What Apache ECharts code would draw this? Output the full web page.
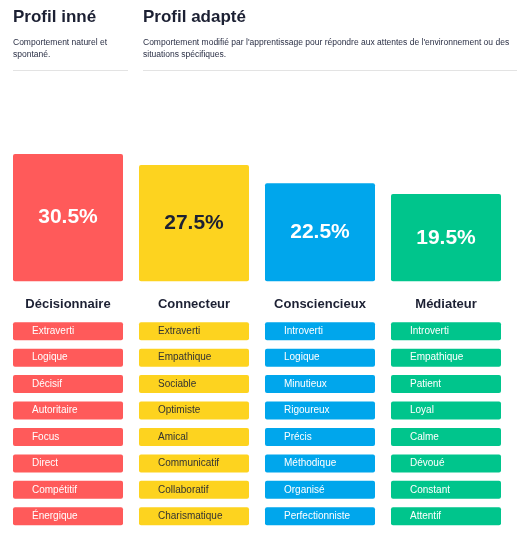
<!DOCTYPE html>
<html>
<head>
<meta charset="utf-8">
<script src="https://cdn.jsdelivr.net/npm/echarts@6/dist/echarts.min.js"></script>
<style>
html,body{margin:0;padding:0;background:#fff;}
#c{width:522px;height:542px;}
</style>
</head>
<body>
<div id="c"></div>
<script>
// ---- data ----
var categories = ['Décisionnaire', 'Connecteur', 'Consciencieux', 'Médiateur'];
var percentages = [30.5, 27.5, 22.5, 19.5];
var traitsDecisionnaire = ['Extraverti', 'Logique', 'Décisif', 'Autoritaire', 'Focus', 'Direct', 'Compétitif', 'Énergique'];
var traitsConnecteur = ['Extraverti', 'Empathique', 'Sociable', 'Optimiste', 'Amical', 'Communicatif', 'Collaboratif', 'Charismatique'];
var traitsConsciencieux = ['Introverti', 'Logique', 'Minutieux', 'Rigoureux', 'Précis', 'Méthodique', 'Organisé', 'Perfectionniste'];
var traitsMediateur = ['Introverti', 'Empathique', 'Patient', 'Loyal', 'Calme', 'Dévoué', 'Constant', 'Attentif'];
var titleInne = 'Profil inné';
var subInne = 'Comportement naturel et spontané.';
var titleAdapte = 'Profil adapté';
var subAdapte = "Comportement modifié par l'apprentissage pour répondre aux attentes de l'environnement ou des situations spécifiques.";

// ---- styles ----
var palette = ['#FF5A5A', '#FDD31F', '#00A6EC', '#00C58C'];
var textColors = ['#ffffff', '#1c2033', '#ffffff', '#ffffff'];
var tagTextColors = ['#ffffff', '#333333', '#ffffff', '#ffffff'];
var dark = '#1c2033';
var FONT = '"Liberation Sans", Arial, Helvetica, sans-serif';
var AXIS_MIN = -4.4;

var traitLists = [traitsDecisionnaire, traitsConnecteur, traitsConsciencieux, traitsMediateur];
var rowLabels = traitsDecisionnaire.map(function (_, i) { return 'r' + i; });
var tagData = [], tagTexts = [];
traitLists.forEach(function (list, ci) {
  list.forEach(function (t, ri) {
    tagData.push([ci, ri]);
    tagTexts.push(t);
  });
});
var barData = percentages.map(function (v, i) { return [i, v]; });

var chart = echarts.init(document.getElementById('c'), null, { renderer: 'canvas' });
chart.setOption({
  animation: false,
  textStyle: { fontFamily: FONT },
  grid: [
    { left: 5, width: 504, top: 154, height: 127.3 },
    { left: 5, width: 504, top: 318, height: 211.5 }
  ],
  xAxis: [
    {
      type: 'category', gridIndex: 0, data: categories,
      axisLine: { show: false }, axisTick: { show: false },
      axisLabel: { margin: 17, fontSize: 13, fontWeight: 'bold', color: dark, fontFamily: FONT }
    },
    {
      type: 'category', gridIndex: 1, data: categories,
      axisLine: { show: false }, axisTick: { show: false }, axisLabel: { show: false }
    }
  ],
  yAxis: [
    { type: 'value', gridIndex: 0, min: AXIS_MIN, max: 30.5, show: false, splitLine: { show: false } },
    { type: 'category', gridIndex: 1, data: rowLabels, inverse: true, show: false }
  ],
  series: [
    {
      type: 'custom', xAxisIndex: 0, yAxisIndex: 0,
      data: barData,
      renderItem: function (params, api) {
        var ci = api.value(0), v = api.value(1);
        var top = api.coord([ci, v]);
        var base = api.coord([ci, AXIS_MIN]);
        var w = 110;
        return {
          type: 'group',
          children: [
            { type: 'rect', shape: { x: top[0] - w / 2, y: top[1], width: w, height: base[1] - top[1], r: 2 },
              style: { fill: palette[ci] } },
            { type: 'text', x: top[0], y: (top[1] + base[1]) / 2,
              style: { text: v.toFixed(1) + '%', fill: textColors[ci],
                       font: 'bold 21px ' + FONT, align: 'center', verticalAlign: 'middle' } }
          ]
        };
      }
    },
    {
      type: 'custom', xAxisIndex: 1, yAxisIndex: 1,
      data: tagData,
      renderItem: function (params, api) {
        var ci = api.value(0), ri = api.value(1);
        var c = api.coord([ci, ri]);
        var w = 110, h = 18;
        return {
          type: 'group',
          children: [
            { type: 'rect', shape: { x: c[0] - w / 2, y: c[1] - h / 2, width: w, height: h, r: 2 },
              style: { fill: palette[ci] } },
            { type: 'text', x: c[0] - w / 2 + 19, y: c[1],
              style: { text: tagTexts[params.dataIndex], fill: tagTextColors[ci],
                       font: '10px ' + FONT, verticalAlign: 'middle', align: 'left' } }
          ]
        };
      }
    }
  ],
  graphic: [
    { type: 'text', left: 13, top: 9, style: { text: titleInne, font: 'bold 17px ' + FONT, fill: dark } },
    { type: 'text', left: 13, top: 37, style: { text: subInne, font: '8.5px ' + FONT, fill: '#2a2f45', width: 100, overflow: 'break', lineHeight: 12 } },
    { type: 'line', shape: { x1: 13, y1: 70.5, x2: 128, y2: 70.5 }, style: { stroke: '#e3e3e3', lineWidth: 1 } },
    { type: 'text', left: 143, top: 9, style: { text: titleAdapte, font: 'bold 17px ' + FONT, fill: dark } },
    { type: 'text', left: 143, top: 37, style: { text: subAdapte, font: '8.5px ' + FONT, fill: '#2a2f45', width: 385, overflow: 'break', lineHeight: 12 } },
    { type: 'line', shape: { x1: 143, y1: 70.5, x2: 517, y2: 70.5 }, style: { stroke: '#e3e3e3', lineWidth: 1 } }
  ]
});
</script>
</body>
</html>
